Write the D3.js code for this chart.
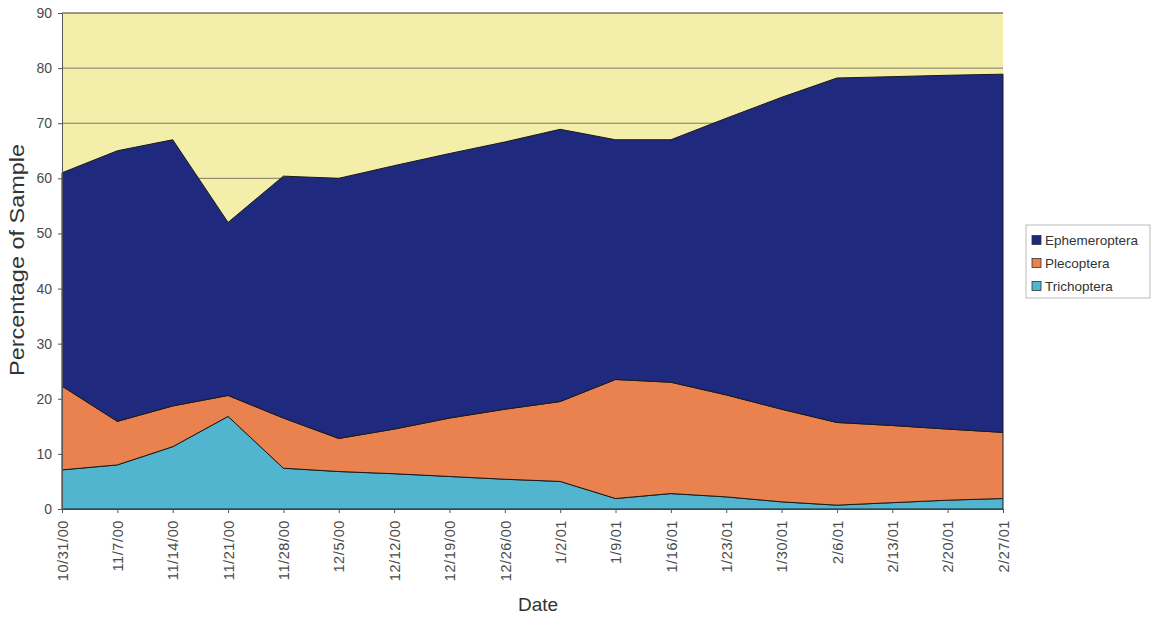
<!DOCTYPE html>
<html>
<head>
<meta charset="utf-8">
<script src="https://cdn.jsdelivr.net/npm/d3@7"></script>
<style>
  html, body { margin: 0; padding: 0; background: #ffffff; }
  svg { display: block; font-family: Arial, "Liberation Sans", sans-serif; }
</style>
</head>
<body>
<svg id="chart" width="1162" height="619"></svg>
<script>
// ---- data ----
const dates = ["10/31/00","11/7/00","11/14/00","11/21/00","11/28/00","12/5/00","12/12/00","12/19/00","12/26/00","1/2/01","1/9/01","1/16/01","1/23/01","1/30/01","2/6/01","2/13/01","2/20/01","2/27/01"];
const trichoptera   = [7.1, 8.0, 11.3, 16.8, 7.4, 6.8, 6.4, 5.9, 5.4, 5.0, 1.9, 2.8, 2.2, 1.3, 0.7, 1.15, 1.6, 1.9];
const plecoptera    = [15.2, 7.9, 7.4, 3.8, 9.1, 6.0, 8.1, 10.6, 12.7, 14.5, 21.6, 20.2, 18.5, 16.8, 15.0, 14.0, 12.9, 12.0];
const ephemeroptera = [38.7, 49.1, 48.3, 31.4, 43.9, 47.2, 47.8, 48.0, 48.5, 49.4, 43.5, 44.0, 50.2, 56.6, 62.5, 63.3, 64.2, 65.0];
const seriesNames = ["Trichoptera", "Plecoptera", "Ephemeroptera"];
const legendOrder = ["Ephemeroptera", "Plecoptera", "Trichoptera"];
const yTicks = [0, 10, 20, 30, 40, 50, 60, 70, 80, 90];
const colors = { Ephemeroptera: "#1f2a7f", Plecoptera: "#ea8250", Trichoptera: "#52b5cf" };

const table = dates.map((d, i) => ({
  date: d,
  Trichoptera: trichoptera[i],
  Plecoptera: plecoptera[i],
  Ephemeroptera: ephemeroptera[i]
}));

// ---- layout ----
const svg = d3.select("#chart");
const L = 62, R = 1003, T = 13, B = 509;

const x = d3.scalePoint().domain(dates).range([L, R]);
const y = d3.scaleLinear().domain([0, 90]).range([B, T]);

// plot background
svg.append("rect").attr("x", L).attr("y", T).attr("width", R - L).attr("height", B - T)
  .attr("fill", "#f3eea9");

// gridlines
svg.append("g").selectAll("line").data(yTicks.filter(v => v > 0)).join("line")
  .attr("x1", L).attr("x2", R).attr("y1", d => y(d)).attr("y2", d => y(d))
  .attr("stroke", "#6f6c5a").attr("stroke-width", 0.9);

// stacked areas
const stack = d3.stack().keys(seriesNames);
const layers = stack(table);
const area = d3.area()
  .x(d => x(d.data.date))
  .y0(d => y(d[0]))
  .y1(d => y(d[1]));

svg.append("g").selectAll("path").data(layers).join("path")
  .attr("d", area)
  .attr("fill", d => colors[d.key])
  .attr("stroke", "#1a1a1a")
  .attr("stroke-width", 1)
  .attr("stroke-linejoin", "round");

// axes
const yAxis = d3.axisLeft(y).tickValues(yTicks).tickSize(4).tickPadding(6);
const gy = svg.append("g").attr("transform", `translate(${L},0)`).call(yAxis);
gy.select(".domain").attr("stroke", "#555");
gy.selectAll(".tick line").attr("stroke", "#555");
gy.selectAll(".tick text").attr("font-size", 14).attr("fill", "#4a4a4a")
  .attr("font-family", "Arial, 'Liberation Sans', sans-serif");

const xAxis = d3.axisBottom(x).tickSize(4).tickSizeOuter(0);
const gx = svg.append("g").attr("transform", `translate(0,${B})`).call(xAxis);
gx.select(".domain").attr("stroke", "#444");
gx.selectAll(".tick line").attr("stroke", "#555");
gx.selectAll(".tick text")
  .attr("font-size", 14.5).attr("fill", "#4a4a4a")
  .attr("font-family", "Arial, 'Liberation Sans', sans-serif")
  .attr("transform", "rotate(-90)")
  .attr("text-anchor", "end")
  .attr("x", -11).attr("y", 0).attr("dy", "0.36em")
  .attr("letter-spacing", 0.6);

// top border
svg.append("line").attr("x1", L).attr("x2", R).attr("y1", T).attr("y2", T)
  .attr("stroke", "#777").attr("stroke-width", 1);

// axis titles
svg.append("text")
  .attr("transform", `translate(24,260) rotate(-90)`)
  .attr("text-anchor", "middle")
  .attr("font-size", 20).attr("fill", "#333")
  .attr("textLength", 232).attr("lengthAdjust", "spacingAndGlyphs")
  .text("Percentage of Sample");

svg.append("text")
  .attr("x", 538).attr("y", 611)
  .attr("text-anchor", "middle")
  .attr("font-size", 19).attr("fill", "#333")
  .text("Date");

// legend
const lg = svg.append("g");
lg.append("rect").attr("x", 1026).attr("y", 225).attr("width", 124).attr("height", 73)
  .attr("fill", "#fff").attr("stroke", "#bbb").attr("stroke-width", 1);
const items = lg.selectAll("g.item").data(legendOrder).join("g")
  .attr("class", "item")
  .attr("transform", (d, i) => `translate(1032,${240 + i * 23})`);
items.append("rect").attr("x", 0).attr("y", -4.5).attr("width", 9).attr("height", 9)
  .attr("fill", d => colors[d]).attr("stroke", "#333").attr("stroke-width", 0.8);
items.append("text").attr("x", 13).attr("y", 0).attr("dy", "0.36em")
  .attr("font-size", 13.5).attr("fill", "#333")
  .text(d => d);
</script>
</body>
</html>
